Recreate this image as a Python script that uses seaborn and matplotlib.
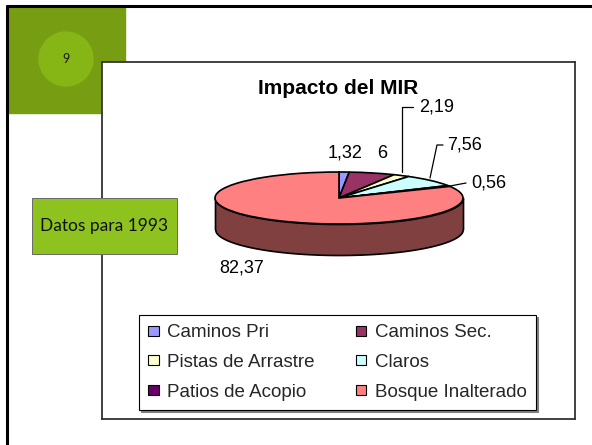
import numpy as np
import seaborn as sns
import matplotlib.pyplot as plt
from matplotlib.patches import Patch, Rectangle, Circle

# datos del grafico
categorias = ['Caminos Pri', 'Caminos Sec.', 'Pistas de Arrastre', 'Claros',
              'Patios de Acopio', 'Bosque Inalterado']
valores = [1.32, 6, 2.19, 7.56, 0.56, 82.37]
colores = ['#9999FF', '#993366', '#FFFFCC', '#CCFFFF', '#660066', '#FF8080']
titulo = 'Impacto del MIR'
nota = 'Datos para 1993'
num_diapositiva = '9'

sns.set_theme(style='white')
plt.rcParams['font.family'] = ['Liberation Sans', 'DejaVu Sans']

W, H = 592, 445
fig = plt.figure(figsize=(W / 100, H / 100), dpi=100)

# fondo de la diapositiva (coordenadas en pixeles)
bg = fig.add_axes([0, 0, 1, 1])
bg.set_xlim(0, W)
bg.set_ylim(H, 0)
bg.axis('off')
bg.add_patch(Rectangle((8, 8), 117, 105, color='#779E12', zorder=1))
bg.add_patch(Circle((66, 59), 27, color='#86B516', zorder=2))
bg.text(66, 59, num_diapositiva, ha='center', va='center', fontsize=9,
        family='Lato', color='#1a1a1a', zorder=3)
bg.plot([7, 7], [6, H], color='black', lw=2.2, zorder=3)
bg.plot([7, W], [6, 6], color='black', lw=2.2, zorder=3)

# area del grafico
x0, x1, y0, y1 = 102, 575, 62, 419
ax = fig.add_axes([x0 / W, 1 - y1 / H, (x1 - x0) / W, (y1 - y0) / H])
cx, cy, rx, ry = 339, 198, 124, 26
prof = 31 / ry


def px(x, y):
    return (x - cx) / rx, (cy - y) / ry


wedges, _ = ax.pie(valores, colors=colores, startangle=90, counterclock=False,
                   radius=1, wedgeprops=dict(edgecolor='black', linewidth=1.2))
for w in wedges:
    w.set_zorder(2)

# lateral del pastel 3D
xs = np.linspace(-1, 1, 300)
yb = -np.sqrt(1 - xs ** 2)
ax.fill_between(xs, yb - prof, yb, facecolor='#804040', edgecolor='black',
                linewidth=1.2, zorder=1)

ax.set_aspect('auto')
ax.set_xlim((x0 - cx) / rx, (x1 - cx) / rx)
ax.set_ylim((cy - y1) / ry, (cy - y0) / ry)
ax.set_frame_on(True)
ax.set_facecolor('white')
for s in ax.spines.values():
    s.set_visible(True)
    s.set_color('#333333')
    s.set_linewidth(1.3)
ax.set_xticks([])
ax.set_yticks([])

ax.text(*px(338, 88), titulo, ha='center', va='center', fontsize=15,
        fontweight='bold', color='black')

# etiquetas de datos
etiquetas = [f'{v:g}'.replace('.', ',') for v in valores]
pos_etq = [(345, 153), (382, 153), (437, 107), (465, 145), (489, 183), (242, 268)]
for t, (x, y) in zip(etiquetas, pos_etq):
    ax.text(*px(x, y), t, ha='center', va='center', fontsize=13, color='black')

# lineas guia
guias = [[(402, 172), (402, 107), (413, 107)],
         [(430, 178), (437, 145), (443, 145)],
         [(450, 186), (466, 183)]]
for g in guias:
    pts = [px(x, y) for x, y in g]
    ax.plot([p[0] for p in pts], [p[1] for p in pts], color='black', lw=0.9)

# leyenda (orden por filas, como en el original)
orden = [0, 2, 4, 1, 3, 5]
handles = [Patch(facecolor=colores[i], edgecolor='black', linewidth=0.8) for i in orden]
leg = fig.legend(handles, [categorias[i] for i in orden], ncol=2, loc='center',
                 bbox_to_anchor=(139 / W, 1 - 412 / H, 397 / W, 99 / H),
                 mode='expand', fontsize=13.5, frameon=True, fancybox=False,
                 shadow={'ox': 1.2, 'oy': -1.2, 'color': '#808080', 'alpha': 1},
                 edgecolor='black', handlelength=0.55, handleheight=0.45,
                 handletextpad=0.45, columnspacing=0.3, labelspacing=0.68,
                 borderpad=0.5, borderaxespad=0)
leg.get_frame().set_linewidth(0.8)

# cuadro de nota
bg2 = fig.add_axes([0, 0, 1, 1], facecolor='none')
bg2.set_xlim(0, W)
bg2.set_ylim(H, 0)
bg2.axis('off')
bg2.add_patch(Rectangle((32, 198), 145, 56, facecolor='#8DC21F',
                        edgecolor='#6a6a6a', linewidth=0.7))
bg2.text(104.5, 226, nota, ha='center', va='center', fontsize=12.5,
         family='Lato', color='#111111')

fig.savefig('out.png', dpi=100)
